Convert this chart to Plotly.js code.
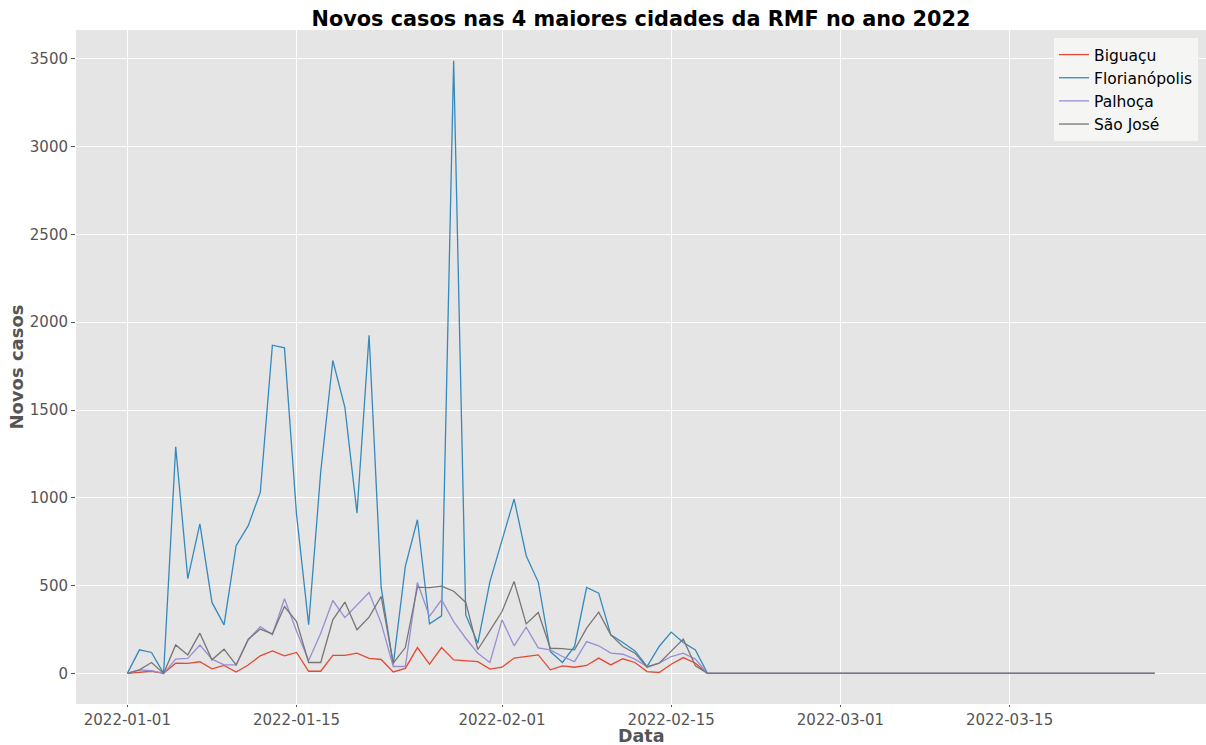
<!DOCTYPE html>
<html>
<head>
<meta charset="utf-8">
<script src="https://cdn.plot.ly/plotly-3.0.1.min.js"></script>
<style>
  html, body { margin: 0; padding: 0; background: #ffffff; }
  #chart { width: 1206px; height: 745px; }
</style>
</head>
<body>
<div id="chart"></div>
<script>
// Dates (daily, 2022-01-01 .. 2022-03-27)
const dates = [
  "2022-01-01","2022-01-02","2022-01-03","2022-01-04","2022-01-05","2022-01-06","2022-01-07","2022-01-08","2022-01-09","2022-01-10",
  "2022-01-11","2022-01-12","2022-01-13","2022-01-14","2022-01-15","2022-01-16","2022-01-17","2022-01-18","2022-01-19","2022-01-20",
  "2022-01-21","2022-01-22","2022-01-23","2022-01-24","2022-01-25","2022-01-26","2022-01-27","2022-01-28","2022-01-29","2022-01-30",
  "2022-01-31","2022-02-01","2022-02-02","2022-02-03","2022-02-04","2022-02-05","2022-02-06","2022-02-07","2022-02-08","2022-02-09",
  "2022-02-10","2022-02-11","2022-02-12","2022-02-13","2022-02-14","2022-02-15","2022-02-16","2022-02-17","2022-02-18","2022-02-19",
  "2022-02-20","2022-02-21","2022-02-22","2022-02-23","2022-02-24","2022-02-25","2022-02-26","2022-02-27","2022-02-28","2022-03-01",
  "2022-03-02","2022-03-03","2022-03-04","2022-03-05","2022-03-06","2022-03-07","2022-03-08","2022-03-09","2022-03-10","2022-03-11",
  "2022-03-12","2022-03-13","2022-03-14","2022-03-15","2022-03-16","2022-03-17","2022-03-18","2022-03-19","2022-03-20","2022-03-21",
  "2022-03-22","2022-03-23","2022-03-24","2022-03-25","2022-03-26","2022-03-27"
];

const biguacu = [
  0, 8, 12, 0, 58, 57, 66, 26, 45, 8,
  48, 100, 128, 100, 119, 12, 12, 102, 102, 115,
  85, 79, 8, 28, 147, 52, 147, 77, 72, 67,
  24, 35, 87, 96, 105, 20, 43, 35, 45, 87,
  48, 83, 62, 10, 5, 52, 90, 58, 0, 0,
  0, 0, 0, 0, 0, 0, 0, 0, 0, 0,
  0, 0, 0, 0, 0, 0, 0, 0, 0, 0,
  0, 0, 0, 0, 0, 0, 0, 0, 0, 0,
  0, 0, 0, 0, 0, 0
];

const florianopolis = [
  0, 134, 119, 0, 1290, 539, 852, 404, 276, 727,
  841, 1031, 1869, 1854, 904, 277, 1149, 1782, 1515, 913,
  1926, 490, 50, 609, 875, 282, 328, 3490, 333, 172,
  523, 761, 993, 670, 520, 124, 62, 153, 489, 457,
  219, 176, 128, 39, 153, 235, 176, 134, 0, 0,
  0, 0, 0, 0, 0, 0, 0, 0, 0, 0,
  0, 0, 0, 0, 0, 0, 0, 0, 0, 0,
  0, 0, 0, 0, 0, 0, 0, 0, 0, 0,
  0, 0, 0, 0, 0, 0
];

const palhoca = [
  0, 20, 15, 0, 81, 85, 161, 81, 48, 48,
  190, 267, 220, 425, 240, 73, 229, 415, 318, 390,
  461, 286, 39, 39, 518, 324, 419, 295, 200, 115,
  62, 305, 157, 263, 145, 134, 96, 67, 181, 157,
  115, 109, 81, 39, 58, 96, 115, 81, 0, 0,
  0, 0, 0, 0, 0, 0, 0, 0, 0, 0,
  0, 0, 0, 0, 0, 0, 0, 0, 0, 0,
  0, 0, 0, 0, 0, 0, 0, 0, 0, 0,
  0, 0, 0, 0, 0, 0
];

const saoJose = [
  0, 20, 62, 0, 162, 105, 229, 77, 138, 48,
  195, 252, 225, 381, 295, 62, 62, 305, 406, 248,
  320, 438, 58, 147, 491, 488, 497, 468, 404, 136,
  243, 352, 523, 282, 347, 143, 141, 134, 258, 349,
  219, 153, 115, 35, 58, 124, 195, 43, 0, 0,
  0, 0, 0, 0, 0, 0, 0, 0, 0, 0,
  0, 0, 0, 0, 0, 0, 0, 0, 0, 0,
  0, 0, 0, 0, 0, 0, 0, 0, 0, 0,
  0, 0, 0, 0, 0, 0
];

const seriesNames = ["Biguaçu", "Florianópolis", "Palhoça", "São José"];
const seriesColors = ["#E24A33", "#348ABD", "#988ED5", "#777777"];
const xTickVals = ["2022-01-01", "2022-01-15", "2022-02-01", "2022-02-15", "2022-03-01", "2022-03-15"];
const yTickVals = [0, 500, 1000, 1500, 2000, 2500, 3000, 3500];

const allSeries = [biguacu, florianopolis, palhoca, saoJose];
const traces = allSeries.map((ys, i) => ({
  type: "scatter",
  mode: "lines",
  x: dates,
  y: ys,
  name: seriesNames[i],
  line: { color: seriesColors[i], width: 1.3 },
  hoverinfo: "skip"
}));

const font = "DejaVu Sans, Verdana, sans-serif";

const layout = {
  width: 1206,
  height: 745,
  margin: { l: 76, r: 0, t: 30, b: 41 },
  paper_bgcolor: "#ffffff",
  plot_bgcolor: "#E5E5E5",
  font: { family: font, color: "#555555", size: 15 },
  title: {
    text: "<b>Novos casos nas 4 maiores cidades da RMF no ano 2022</b>",
    font: { family: font, size: 20.8, color: "#000000" },
    x: 0.5315, xref: "container", xanchor: "center",
    y: 0.975, yref: "container", yanchor: "middle"
  },
  xaxis: {
    type: "date",
    range: ["2021-12-27 18:00", "2022-03-31 06:00"],
    tickvals: xTickVals,
    ticktext: xTickVals,
    tickfont: { family: font, size: 15, color: "#555555" },
    ticks: "outside", ticklen: 1.5, tickwidth: 1, tickcolor: "#555555",
    showgrid: true, gridcolor: "#ffffff", gridwidth: 1,
    zeroline: false, showline: false
  },
  yaxis: {
    range: [-174.5, 3664.5],
    tickvals: yTickVals,
    tickfont: { family: font, size: 15, color: "#555555" },
    ticks: "outside", ticklen: 4, tickwidth: 1, tickcolor: "#555555",
    showgrid: true, gridcolor: "#ffffff", gridwidth: 1,
    zeroline: false, showline: false,
    title: { text: "<b>Novos casos</b>", font: { family: font, size: 18, color: "#555555" }, standoff: 1 }
  },
  annotations: [{
    text: "<b>Data</b>",
    xref: "paper", yref: "paper",
    x: 0.5, y: -0.047,
    xanchor: "center", yanchor: "middle",
    showarrow: false, borderpad: 0,
    font: { family: font, size: 17.5, color: "#555555" }
  }],
  showlegend: true,
  legend: {
    x: 0.9938, xanchor: "right",
    y: 0.9896, yanchor: "top",
    bgcolor: "rgba(245,245,244,0.95)",
    bordercolor: "#e6e6e6", borderwidth: 1,
    font: { family: font, size: 15.5, color: "#000000" },
    itemwidth: 30
  }
};

Plotly.newPlot("chart", traces, layout, { staticPlot: true, displayModeBar: false });
</script>
</body>
</html>
